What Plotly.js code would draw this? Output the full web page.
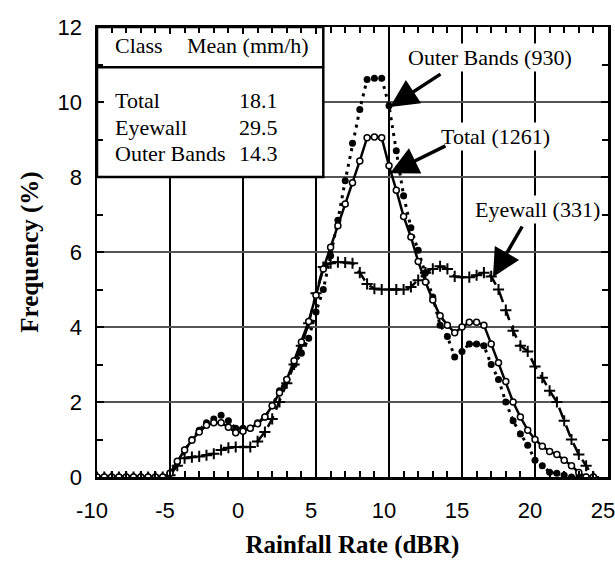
<!DOCTYPE html>
<html>
<head>
<meta charset="utf-8">
<script src="https://cdn.plot.ly/plotly-3.0.1.min.js"></script>
<style>
html,body{margin:0;padding:0;background:#fff;}
#chart{width:615px;height:566px;}
</style>
</head>
<body>
<div id="chart"></div>
<script>
// Rainfall rate bins (dBR)
const rainRate = [-10,-9.5,-9,-8.5,-8,-7.5,-7,-6.5,-6,-5.5,
  -5,-4.5,-4,-3.5,-3,-2.5,-2,-1.5,-1,-0.5,
  0,0.5,1,1.5,2,2.5,3,3.5,4,4.5,
  5,5.5,6,6.5,7,7.5,8,8.5,9,9.5,
  10,10.5,11,11.5,12,12.5,13,13.5,14,14.5,
  15,15.5,16,16.5,17,17.5,18,18.5,19,19.5,
  20,20.5,21,21.5,22,22.5,23,23.5,24];

// Frequency (%)
const totalFreq = [0,0,0,0,0,0,0,0,0,0,
  0.1,0.42,0.72,0.98,1.2,1.38,1.45,1.45,1.33,1.18,
  1.22,1.3,1.42,1.6,1.9,2.25,2.6,3.1,3.6,4.15,
  4.85,5.55,6.13,6.7,7.28,7.85,8.43,9.05,9.07,9.05,
  8.3,7.65,6.95,6.4,5.75,5.2,4.72,4.3,4.05,3.85,
  4.0,4.13,4.13,4.05,3.55,3.05,2.55,2.0,1.6,1.25,
  1.0,0.82,0.68,0.6,0.45,0.3,0.12,0,0];

const outerFreq = [0,0,0,0,0,0,0,0,0,0,
  0.1,0.4,0.72,1.0,1.25,1.45,1.55,1.65,1.5,1.3,
  1.3,1.3,1.45,1.6,1.9,2.3,2.6,3.0,3.3,3.7,
  4.4,5.0,5.9,6.85,7.9,8.9,9.8,10.6,10.63,10.63,
  9.9,8.7,7.5,6.65,6.05,5.45,4.8,4.05,3.75,3.2,
  3.35,3.55,3.55,3.5,3.0,2.6,2.0,1.5,1.15,0.85,
  0.45,0.3,0.13,0.1,0.05,0,0,0,0];

const eyewallFreq = [0,0,0,0,0,0,0,0,0,0,
  0.05,0.3,0.5,0.53,0.55,0.58,0.62,0.72,0.78,0.8,
  0.8,0.8,0.95,1.2,1.55,2.0,2.5,3.0,3.5,4.1,
  4.9,5.6,5.7,5.73,5.72,5.7,5.45,5.15,5.02,5.0,
  5.0,5.0,5.0,5.07,5.25,5.45,5.55,5.62,5.55,5.35,
  5.33,5.33,5.38,5.45,5.35,5.0,4.45,3.9,3.5,3.35,
  2.95,2.65,2.3,2.0,1.5,1.0,0.6,0.3,0];

// Table of class means
const classNames = ["Total","Eyewall","Outer Bands"];
const classMeans = ["18.1","29.5","14.3"];
const seriesLabels = ["Outer Bands (930)","Total (1261)","Eyewall (331)"];

const serif = "Liberation Serif, Times New Roman, serif";
const sans = "Liberation Sans, Arial, Helvetica, sans-serif";

const traces = [
  {x: rainRate, y: eyewallFreq, mode: "lines+markers", name: "Eyewall",
   line: {color: "black", width: 2.5, dash: "12px,7px"},
   marker: {symbol: "cross-thin", size: 8, line: {color: "black", width: 2}}},
  {x: rainRate, y: outerFreq, mode: "lines+markers", name: "Outer Bands",
   line: {color: "black", width: 3, dash: "3px,5px"},
   marker: {symbol: "circle", size: 7, color: "black"}},
  {x: rainRate, y: totalFreq, mode: "lines+markers", name: "Total",
   line: {color: "black", width: 2.5},
   marker: {symbol: "circle", size: 6, color: "white", line: {color: "black", width: 1.5}}}
];

const annFont = {family: serif, size: 22, color: "black"};
const annotations = [];
// table text
annotations.push({x: -8.9, y: 11.52, xref: "x", yref: "y", text: "Class", showarrow: false, xanchor: "left", yanchor: "middle", font: annFont});
annotations.push({x: -3.97, y: 11.52, xref: "x", yref: "y", text: "Mean (mm/h)", showarrow: false, xanchor: "left", yanchor: "middle", font: annFont});
const rowY = [10.05, 9.31, 8.64];
classNames.forEach((c, i) => {
  annotations.push({x: -8.9, y: rowY[i], xref: "x", yref: "y", text: c, showarrow: false, xanchor: "left", yanchor: "middle", font: annFont});
  annotations.push({x: -0.41, y: rowY[i], xref: "x", yref: "y", text: classMeans[i], showarrow: false, xanchor: "left", yanchor: "middle", font: annFont});
});
// series labels
const labelPos = [[16.95, 11.2], [17.3, 9.08], [20.15, 7.13]];
seriesLabels.forEach((t, i) => {
  annotations.push({x: labelPos[i][0], y: labelPos[i][1], xref: "x", yref: "y", text: t, showarrow: false,
    xanchor: "center", yanchor: "middle", font: annFont, bgcolor: "white"});
});
// arrows
const arrows = [
  {tip: [10.07, 9.87], tail: [13.63, 10.77]},
  {tip: [10.07, 8.1], tail: [13.97, 8.85]},
  {tip: [17.12, 5.33], tail: [19.18, 6.72]}
];
arrows.forEach(a => {
  annotations.push({x: a.tip[0], y: a.tip[1], ax: a.tail[0], ay: a.tail[1], xref: "x", yref: "y", axref: "x", ayref: "y",
    text: "", showarrow: true, arrowhead: 2, arrowsize: 1.6, arrowwidth: 3.5, arrowcolor: "black", standoff: 0});
});

const layout = {
  width: 615, height: 566,
  margin: {l: 97, r: 7, t: 27, b: 89},
  paper_bgcolor: "white", plot_bgcolor: "white",
  showlegend: false,
  xaxis: {
    range: [-10, 25], tickvals: [-10,-5,0,5,10,15,20,25], ticktext: ["-10","-5","0","5","10","15","20","25"],
    showgrid: true, gridcolor: "black", gridwidth: 2,
    zeroline: false, showline: true, linecolor: "black", linewidth: 2.5, mirror: "ticks",
    ticks: "inside", ticklen: 7, tickwidth: 2, tickcolor: "black",
    minor: {dtick: 1, ticks: "inside", ticklen: 6, tickwidth: 2, tickcolor: "black", showgrid: false},
    tickfont: {family: sans, size: 22, color: "black"},
    ticklabelstandoff: 12, ticklabelshift: -5, ticklabeloverflow: "allow",
    title: {text: "Rainfall Rate (dBR)", font: {family: serif, size: 25, color: "black", weight: "bold"}, standoff: 14}
  },
  yaxis: {
    range: [0, 12], tickvals: [0,2,4,6,8,10,12], ticktext: ["0","2","4","6","8","10","12"],
    showgrid: true, gridcolor: "#555", gridwidth: 2,
    zeroline: false, showline: true, linecolor: "black", linewidth: 2.5, mirror: "ticks",
    ticks: "inside", ticklen: 7, tickwidth: 2, tickcolor: "black",
    minor: {dtick: 1, ticks: "inside", ticklen: 6, tickwidth: 2, tickcolor: "black", showgrid: false},
    tickfont: {family: sans, size: 22, color: "black"},
    ticklabelstandoff: 8, ticklabeloverflow: "allow",
    title: {text: "Frequency (%)", font: {family: serif, size: 25, color: "black", weight: "bold"}, standoff: 12}
  },
  shapes: [
    {type: "rect", xref: "x", yref: "y", x0: -10, x1: 5.5, y0: 8, y1: 12, fillcolor: "white",
     line: {color: "black", width: 2.5}, layer: "between"},
    {type: "line", xref: "x", yref: "y", x0: -10, x1: 5.5, y0: 10.93, y1: 10.93,
     line: {color: "black", width: 2.5}, layer: "between"}
  ],
  annotations: annotations
};

Plotly.newPlot("chart", traces, layout, {displayModeBar: false, staticPlot: true});
</script>
</body>
</html>
